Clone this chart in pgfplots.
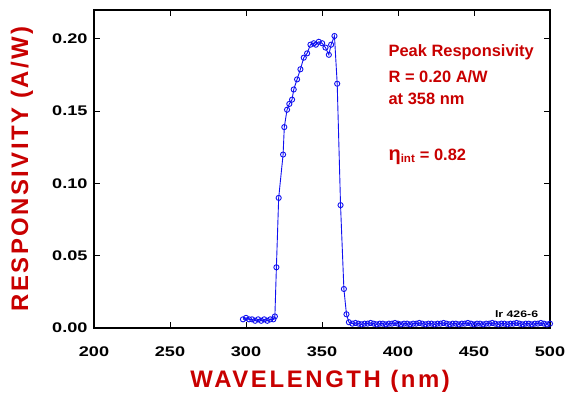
\documentclass[border=0pt]{standalone}
\usepackage{fontspec}
\setmainfont{Liberation Sans}
\newfontfamily\tickfont[FakeStretch=1.3]{Liberation Sans}
\usepackage{pgfplots}
\pgfplotsset{compat=1.18}
\definecolor{labred}{HTML}{C80000}
\definecolor{datablue}{HTML}{1010F0}

\begin{document}
\begin{tikzpicture}
\begin{axis}[
  scale only axis, width=456bp, height=318bp,
  xmin=200, xmax=500, ymin=0, ymax=0.22,
  xtick={200,250,...,500}, ytick={0,0.05,...,0.2},
  tick align=inside, major tick length=6bp,
  axis line style={line width=1.2pt},
  every tick/.style={black, line width=0.9pt},
  /pgf/number format/assume math mode=true,
  yticklabel style={xshift=-3bp, /pgf/number format/.cd, fixed, fixed zerofill, precision=2},
  ticklabel style={font=\tickfont\bfseries\fontsize{14}{15}\selectfont},
  xticklabel style={yshift=-15bp},
  xlabel={\addfontfeature{LetterSpace=11}WAVELENGTH (nm)},
  ylabel={\addfontfeature{LetterSpace=10}RESPONSIVITY (A/W)},
  label style={font=\bfseries\fontsize{24}{25}\selectfont, text=labred},
  xlabel style={at={(axis description cs:0.496,-0.167)}, anchor=center},
  ylabel style={at={(axis description cs:-0.158,0.50)}, anchor=center},
]
\addplot[datablue, line width=0.9pt, mark=o, mark size=2.6pt,
  mark options={line width=0.9pt}] table[x=wl, y=r] {
wl r
298 0.006
300 0.007
302 0.006
304 0.006
306 0.005
308 0.006
310 0.005
312 0.006
314 0.005
316 0.006
318 0.006
319 0.008
320 0.042
321.5 0.090
324.4 0.120
325.2 0.139
327 0.151
328.5 0.155
330.3 0.158
331.4 0.165
333.6 0.172
335.8 0.179
338 0.187
340.2 0.190
342.4 0.196
344.6 0.197
346 0.196
347.9 0.198
350.1 0.197
352.3 0.194
354.5 0.189
356 0.196
358.2 0.202
360 0.169
362.2 0.085
364.4 0.027
366.1 0.0095
367.7 0.004
370 0.003
372 0.0035
374 0.003
376 0.0025
378 0.003
380 0.003
382 0.0035
384 0.003
386 0.0025
388 0.003
390 0.003
392 0.0025
394 0.003
396 0.003
398 0.0035
400 0.003
402 0.0025
404 0.003
406 0.003
408 0.0025
410 0.003
412 0.003
414 0.0035
416 0.003
418 0.0025
420 0.003
422 0.003
424 0.0025
426 0.003
428 0.003
430 0.0035
432 0.003
434 0.0025
436 0.003
438 0.003
440 0.0025
442 0.003
444 0.003
446 0.0035
448 0.003
450 0.0025
452 0.003
454 0.003
456 0.0025
458 0.003
460 0.003
462 0.0035
464 0.003
466 0.0025
468 0.003
470 0.003
472 0.0025
474 0.003
476 0.003
478 0.0035
480 0.003
482 0.0025
484 0.003
486 0.003
488 0.0025
490 0.003
492 0.003
494 0.0035
496 0.003
498 0.0025
500 0.003
};
\node[anchor=base west, text=labred, font=\bfseries\fontsize{16.5}{18}\selectfont]
  at (axis cs:391.5,0.1878) {Peak Responsivity};
\node[anchor=base west, text=labred, font=\bfseries\fontsize{16.5}{18}\selectfont]
  at (axis cs:391.5,0.1696) {R = 0.20 A/W};
\node[anchor=base west, text=labred, font=\bfseries\fontsize{16.5}{18}\selectfont]
  at (axis cs:391.5,0.1543) {at 358 nm};
\node[anchor=base west, text=labred, font=\bfseries\fontsize{16.5}{18}\selectfont]
  at (axis cs:391.5,0.116) {{\fontsize{20}{20}\selectfont η}\textsubscript{int} = 0.82};
\node[anchor=center, font=\tickfont\bfseries\fontsize{9.5}{10}\selectfont]
  at (axis cs:478,0.0095) {lr 426-6};
\coordinate (bl) at (rel axis cs:0,0);
\coordinate (tr) at (rel axis cs:1,1);
\end{axis}
\pgfresetboundingbox
\path ([shift={(-94bp,-72bp)}]bl) rectangle ([shift={(19bp,10bp)}]tr);
\end{tikzpicture}
\end{document}
